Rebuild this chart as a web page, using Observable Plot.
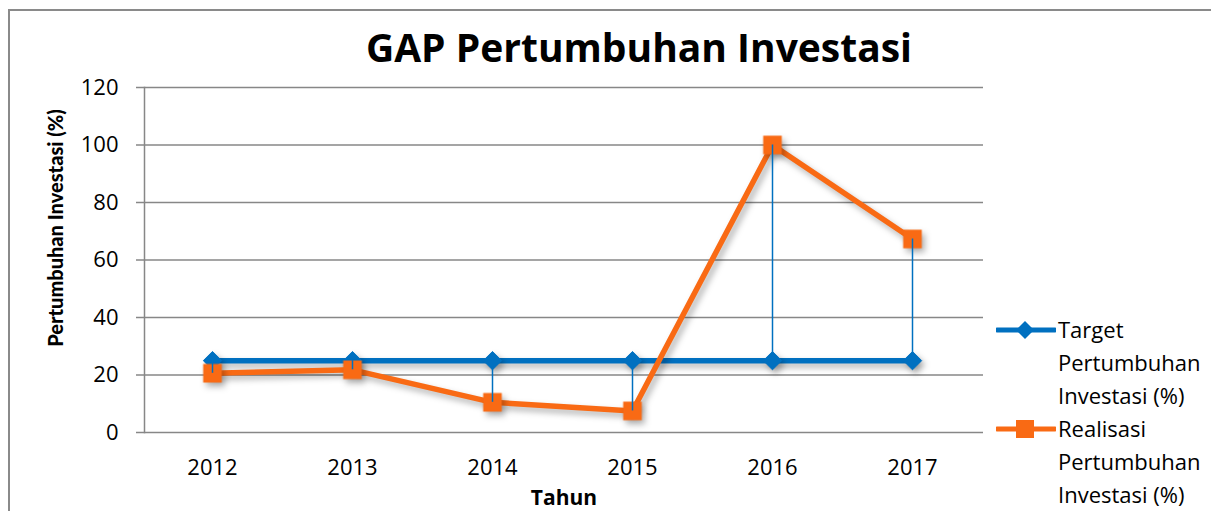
<!DOCTYPE html>
<html>
<head>
<meta charset="utf-8">
<script src="https://cdn.jsdelivr.net/npm/d3@7"></script>
<script src="https://cdn.jsdelivr.net/npm/@observablehq/plot@0.6"></script>
<style>
  html, body { margin: 0; padding: 0; background: #fff; }
  #wrap { position: relative; width: 1211px; height: 511px; overflow: hidden; font-family: "Open Sans", Lato, sans-serif; }
  #border { position: absolute; left: 8px; top: 9px; width: 1300px; height: 600px; border: 2px solid #8a8a8a; box-sizing: border-box; }
  #title { position: absolute; left: 0; top: 46px; width: 1278px; text-align: center; font-weight: bold; font-size: 39px; line-height: 1; transform: translateY(-50%); color: #000; white-space: nowrap; }
  #ylabel { position: absolute; left: 55px; top: 228px; transform: translate(-50%, -50%) rotate(-90deg); font-family: Lato, sans-serif; font-weight: 900; font-size: 20px; line-height: 1; white-space: nowrap; color: #000; }
  #xlabel { position: absolute; left: 564px; top: 497px; transform: translate(-50%, -50%); font-weight: bold; font-size: 21px; line-height: 1; white-space: nowrap; color: #000; }
  #legend { position: absolute; left: 996px; top: 313px; font-size: 22px; line-height: 33px; color: #000; }
  .item { position: relative; padding-left: 62px; width: 150px; }
  .item svg { position: absolute; left: 0; top: 6px; }
  #chart { position: absolute; left: 0; top: 0; }
  g[aria-label="line"], g[aria-label="dot"] { filter: drop-shadow(3px 4px 3px rgba(0,0,0,0.3)); }
</style>
</head>
<body>
<div id="wrap">
  <div id="border"></div>
  <div id="chart"></div>
  <div id="title"></div>
  <div id="ylabel"></div>
  <div id="xlabel"></div>
  <div id="legend"></div>
</div>
<script>
const title = "GAP Pertumbuhan Investasi";
const yLabel = "Pertumbuhan Investasi (%)";
const xLabel = "Tahun";
const years = ["2012", "2013", "2014", "2015", "2016", "2017"];
const target = [25, 25, 25, 25, 25, 25];
const realisasi = [20.6, 21.8, 10.5, 7.5, 100, 67.3];
const seriesNames = ["Target Pertumbuhan Investasi (%)", "Realisasi Pertumbuhan Investasi (%)"];
const yTicks = [0, 20, 40, 60, 80, 100, 120];

const blue = "#0070C0";
const orange = "#F96A14";
const grid = "#878787";

const rows = years.map((y, i) => ({year: y, target: target[i], realisasi: realisasi[i]}));

document.getElementById("title").textContent = title;
document.getElementById("ylabel").textContent = yLabel;
document.getElementById("xlabel").textContent = xLabel;

const plot = Plot.plot({
  width: 1211,
  height: 511,
  marginLeft: 144,
  marginRight: 228,
  marginTop: 87,
  marginBottom: 79,
  style: {fontFamily: "'Open Sans', Lato, sans-serif", fontSize: "22px", color: "#000", background: "transparent"},
  x: {type: "point", domain: years, range: [212, 912], padding: 0, label: null},
  y: {domain: [0, 120], label: null},
  marks: [
    Plot.ruleY(yTicks, {stroke: grid, strokeWidth: 1.5, insetLeft: -8}),
    Plot.frame({anchor: "left", stroke: grid, strokeWidth: 1.5}),
    Plot.axisY({ticks: yTicks, tickSize: 0, tickPadding: 26, label: null, fontSize: 22}),
    Plot.axisX({tickSize: 0, tickPadding: 27, label: null, fontSize: 22}),
    Plot.line(rows, {x: "year", y: "target", stroke: blue, strokeWidth: 5.5}),
    Plot.dot(rows, {x: "year", y: "target", symbol: "diamond2", r: 8.3, fill: blue, stroke: blue, strokeWidth: 1}),
    Plot.line(rows, {x: "year", y: "realisasi", stroke: orange, strokeWidth: 5.5}),
    Plot.dot(rows, {x: "year", y: "realisasi", symbol: "square", r: 10.5, fill: orange, stroke: "none"}),
    Plot.ruleX(rows, {x: "year", y1: "target", y2: "realisasi", stroke: blue, strokeWidth: 1.5})
  ]
});
document.getElementById("chart").appendChild(plot);

// legend
const legend = document.getElementById("legend");
const legendDefs = [
  {name: seriesNames[0], color: blue, symbol: "diamond"},
  {name: seriesNames[1], color: orange, symbol: "square"}
];
legendDefs.forEach(d => {
  const div = document.createElement("div");
  div.className = "item";
  const sw = d.symbol === "diamond"
    ? `<svg width="60" height="22"><line x1="1" y1="11" x2="59" y2="11" stroke="${d.color}" stroke-width="5" stroke-linecap="round"/><path d="M29,2 L38,11 L29,20 L20,11 Z" fill="${d.color}"/></svg>`
    : `<svg width="60" height="22"><line x1="1" y1="11" x2="59" y2="11" stroke="${d.color}" stroke-width="5" stroke-linecap="round"/><rect x="20" y="2" width="18" height="18" fill="${d.color}"/></svg>`;
  div.innerHTML = sw;
  const txt = document.createElement("span");
  txt.textContent = d.name;
  div.appendChild(txt);
  legend.appendChild(div);
});
</script>
</body>
</html>
